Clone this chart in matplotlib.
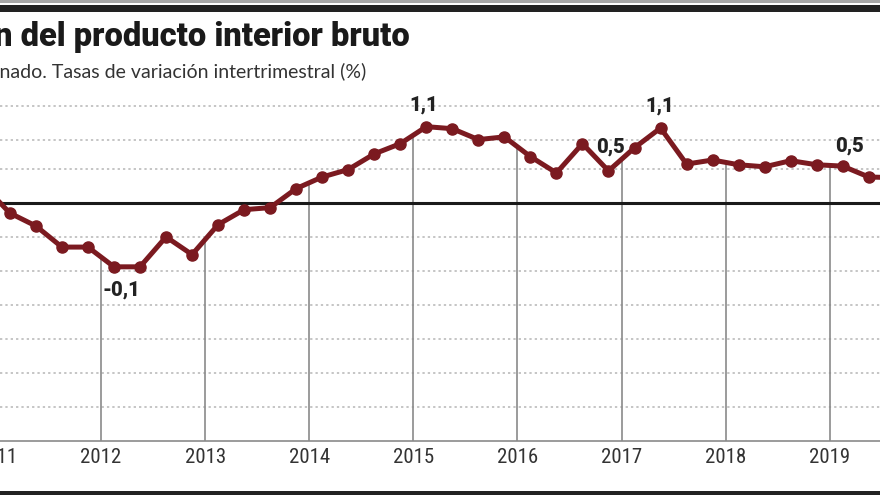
import numpy as np
import matplotlib
matplotlib.use('Agg')
import matplotlib.pyplot as plt
from matplotlib.patches import Rectangle
from matplotlib.transforms import blended_transform_factory

# Quarterly GDP growth (q/q, %), from Q4 2010 to Q3 2019
quarters = ['2010T4',
            '2011T1', '2011T2', '2011T3', '2011T4',
            '2012T1', '2012T2', '2012T3', '2012T4',
            '2013T1', '2013T2', '2013T3', '2013T4',
            '2014T1', '2014T2', '2014T3', '2014T4',
            '2015T1', '2015T2', '2015T3', '2015T4',
            '2016T1', '2016T2', '2016T3', '2016T4',
            '2017T1', '2017T2', '2017T3', '2017T4',
            '2018T1', '2018T2', '2018T3', '2018T4',
            '2019T1', '2019T2', '2019T3']
gdp = [0.25,
       -0.15, -0.34, -0.65, -0.65,
       -0.94, -0.94, -0.50, -0.76,
       -0.32, -0.10, -0.07, 0.21,
       0.38, 0.49, 0.72, 0.87,
       1.12, 1.09, 0.93, 0.97,
       0.68, 0.44, 0.87, 0.47,
       0.81, 1.10, 0.57, 0.63,
       0.56, 0.53, 0.62, 0.56,
       0.54, 0.38, 0.37]
years = [2011, 2012, 2013, 2014, 2015, 2016, 2017, 2018, 2019]
grid_levels = [1.43, 0.93, 0.5, -0.5, -1.0, -1.5, -2.0, -2.5, -3.0]

# labelled quarters: (quarter, text, offset in pixels)
labels = [('2012T1', '-0,1', (7, -23)),
          ('2015T1', '1,1', (-3, 22)),
          ('2016T4', '0,5', (2, 24)),
          ('2017T2', '1,1', (-1, 22)),
          ('2019T1', '0,5', (7, 20))]

title = 'Evolución del producto interior bruto'
subtitle = 'Volumen encadenado. Tasas de variación intertrimestral (%)'

# position of each quarter: middle of the quarter
xq = np.array([int(q[:4]) + (int(q[-1]) - 0.5) / 4 for q in quarters])
gdp = np.array(gdp)

red = '#7b1a20'
narrow = ['Roboto Condensed', 'DejaVu Sans']

fig = plt.figure(figsize=(8.8, 4.95), dpi=100)
ax = fig.add_axes([0, 54 / 495, 1, 347 / 495])
ax.set_xlim(2011.03, 2019.483)
ax.set_ylim(-3.5, 1.6)

for g in grid_levels:
    ax.axhline(g, color='#b5b5b5', lw=1.1, ls=(0, (1.5, 2)), zorder=1)
ax.axhline(0, color='#1a1a1a', lw=2.2, zorder=3)

# year lines drop from the series down to the axis
for y in years:
    ax.vlines(y, -3.5, np.interp(y, xq, gdp), color='#8a8a8a', lw=1.2, zorder=2)

ax.plot(xq, gdp, color=red, lw=3.6, marker='o', markersize=8,
        solid_joinstyle='round', zorder=4)

lookup = dict(zip(quarters, range(len(quarters))))
for q, txt, off in labels:
    i = lookup[q]
    ax.annotate(txt, (xq[i], gdp[i]), xytext=off, textcoords='offset pixels',
                ha='center', va='center', fontsize=14.5, fontweight='heavy',
                family=['Roboto', 'DejaVu Sans'], color='#222222', zorder=5)

trans = blended_transform_factory(ax.transData, ax.transAxes)
for y in years:
    ax.annotate(str(y), (y, 0), xycoords=trans, xytext=(0, -7),
                textcoords='offset pixels', ha='center', va='top',
                fontsize=15, family=narrow, color='#333333',
                annotation_clip=False)

ax.set_xticks([])
ax.set_yticks([])
for s in ['top', 'left', 'right']:
    ax.spines[s].set_visible(False)
ax.spines['bottom'].set_color('#8a8a8a')
ax.spines['bottom'].set_linewidth(1.2)
ax.patch.set_alpha(0)

# header and footer bars
fig.add_artist(Rectangle((0, 1 - 3 / 495), 1, 3 / 495, transform=fig.transFigure,
                         color='#a8a8a8', lw=0))
fig.add_artist(Rectangle((0, 1 - 12 / 495), 1, 7 / 495, transform=fig.transFigure,
                         color='#222222', lw=0))
fig.add_artist(Rectangle((0, 0), 1, 4 / 495, transform=fig.transFigure,
                         color='#222222', lw=0))

fig.text(410 / 880, 1 - 46 / 495, title, ha='right', va='baseline',
         fontsize=23.5, fontweight='heavy', family=['Roboto', 'DejaVu Sans'],
         color='#1a1a1a')
fig.text(366 / 880, 1 - 77 / 495, subtitle, ha='right', va='baseline',
         fontsize=14, family=['Lato', 'DejaVu Sans'], color='#333333')

fig.savefig('out.png', dpi=100)
